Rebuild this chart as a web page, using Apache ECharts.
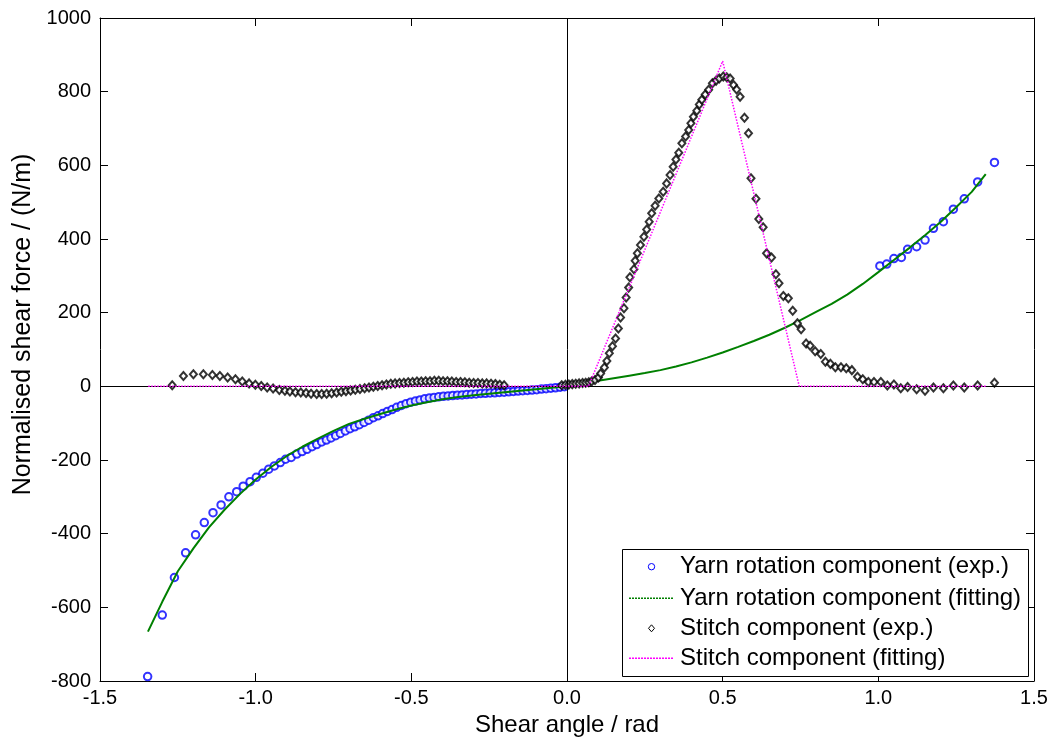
<!DOCTYPE html>
<html>
<head>
<meta charset="utf-8">
<script src="https://cdn.jsdelivr.net/npm/echarts@6/dist/echarts.min.js"></script>
<style>
html,body{margin:0;padding:0;background:#fff;}
#chart{width:1054px;height:743px;}
</style>
</head>
<body>
<div id="chart"></div>
<script>
// ---- data ----
const yarnExp = [
[-1.347,-788],[-1.300,-621],[-1.261,-519],[-1.225,-452],[-1.193,-403],[-1.165,-370],[-1.137,-343],
[-1.111,-322],[-1.086,-300],[-1.061,-286],[-1.040,-271],[-1.018,-259],[-0.998,-247],[-0.977,-236],
[-0.958,-225],[-0.940,-216],[-0.921,-207],[-0.904,-198],[-0.886,-193],[-0.868,-184],[-0.851,-177],
[-0.835,-171],[-0.819,-164],[-0.804,-158],[-0.788,-151],[-0.773,-146],[-0.758,-140],[-0.743,-134],
[-0.728,-128],[-0.712,-121],[-0.697,-115],[-0.682,-110],[-0.667,-104],[-0.652,-98],[-0.637,-92],
[-0.622,-85],[-0.607,-80],[-0.592,-74],[-0.577,-68],[-0.562,-63],[-0.547,-57],[-0.532,-52],
[-0.517,-47],[-0.502,-43],[-0.487,-40],[-0.472,-37],[-0.457,-34],[-0.442,-32],[-0.427,-30],
[-0.412,-28.5],[-0.397,-27],[-0.382,-26],[-0.367,-25],[-0.352,-24],[-0.337,-23.5],[-0.322,-22.5],
[-0.307,-21.5],[-0.292,-20.5],[-0.277,-19.5],[-0.262,-19],[-0.247,-18],[-0.232,-17.5],[-0.217,-16.5],
[-0.202,-16],[-0.187,-15],[-0.172,-14],[-0.157,-13],[-0.142,-12],[-0.127,-11],[-0.112,-10],
[-0.097,-9],[-0.082,-7.5],[-0.067,-6.5],[-0.052,-5],[-0.037,-4],[-0.022,-2.5],[-0.008,-1],
[1.005,327],[1.027,332],[1.050,347],[1.074,350],[1.094,372],[1.123,379],[1.150,397],
[1.177,429],[1.209,447],[1.241,481],[1.276,509],[1.319,555],[1.373,608]
];
const yarnFit = [
[-1.346,-666],[-1.30,-585],[-1.25,-502],[-1.20,-440],[-1.15,-383],[-1.10,-335],[-1.05,-292],
[-1.00,-253],[-0.95,-219],[-0.90,-189],[-0.85,-164],[-0.80,-142],[-0.75,-121],[-0.70,-102],
[-0.65,-88],[-0.60,-75],[-0.55,-63],[-0.50,-52],[-0.45,-43],[-0.40,-35],[-0.35,-29],[-0.30,-24],
[-0.25,-20],[-0.20,-16],[-0.15,-12],[-0.10,-8],[-0.05,-4],[0,0],[0.05,7],[0.10,15],[0.15,22],
[0.20,29],[0.25,36],[0.30,44],[0.35,54],[0.40,65],[0.45,78],[0.50,92],[0.55,107],[0.60,123],
[0.65,140],[0.70,159],[0.75,180],[0.80,202],[0.85,224],[0.90,249],[0.95,278],[1.00,310],
[1.05,343],[1.10,376],[1.15,410],[1.20,446],[1.25,486],[1.30,528],[1.345,576]
];
const stitchExp = [
[-1.268,3],[-1.232,28],[-1.200,33],[-1.168,33],[-1.139,31],[-1.115,28],[-1.090,24],[-1.065,19],
[-1.043,13],[-1.021,8],[-1.001,4],[-0.982,1],[-0.963,-3],[-0.944,-6],[-0.924,-10],[-0.906,-12],
[-0.890,-14],[-0.872,-16],[-0.855,-17],[-0.838,-18],[-0.822,-20],[-0.804,-21],[-0.788,-21],
[-0.772,-20],[-0.756,-19],[-0.740,-17],[-0.725,-15],[-0.710,-13],[-0.695,-11],[-0.680,-9],
[-0.665,-7],[-0.650,-5],[-0.636,-3],[-0.622,-1],[-0.608,1],[-0.594,3],[-0.580,5],[-0.566,7],
[-0.552,8],[-0.538,9],[-0.524,10],[-0.510,11],[-0.496,12],[-0.482,13],[-0.468,13],[-0.454,14],
[-0.440,14],[-0.426,15],[-0.412,15],[-0.398,14],[-0.384,14],[-0.370,13],[-0.356,12],[-0.342,12],
[-0.328,11],[-0.314,10],[-0.300,9],[-0.286,9],[-0.272,8],[-0.258,8],[-0.244,7],[-0.230,6],
[-0.216,4],[-0.202,3],
[-0.017,3],[-0.005,4],[0.006,5],[0.017,6],[0.028,7],[0.039,8],[0.050,9],[0.060,10],[0.070,11],
[0.079,13],[0.090,17],[0.101,24],[0.108,35],[0.120,51],[0.128,69],[0.136,90],[0.146,109],
[0.156,130],[0.165,157],[0.172,187],[0.183,212],[0.190,241],[0.198,268],[0.202,296],[0.215,318],
[0.219,341],[0.226,361],[0.236,384],[0.247,406],[0.256,426],[0.264,447],[0.272,470],[0.283,490],
[0.295,510],[0.309,528],[0.320,551],[0.331,574],[0.341,596],[0.350,616],[0.359,634],[0.369,660],
[0.381,678],[0.391,696],[0.398,714],[0.406,732],[0.417,748],[0.425,765],[0.433,778],[0.444,792],
[0.455,805],[0.467,823],[0.479,830],[0.489,836],[0.502,841],[0.513,839],[0.524,836],[0.535,818],
[0.545,806],[0.556,786],[0.570,729],[0.583,687],[0.591,565],[0.607,509],[0.616,454],[0.630,432],
[0.641,361],[0.657,350],[0.671,304],[0.681,280],[0.695,245],[0.711,239],[0.725,205],[0.740,171],
[0.752,155],[0.768,116],[0.781,110],[0.797,95],[0.815,88],[0.830,67],[0.846,61],[0.862,52],
[0.880,52],[0.897,49],[0.915,44],[0.933,26],[0.950,19],[0.968,12],[0.986,12],[1.008,12],
[1.029,2],[1.050,5],[1.072,-5],[1.094,-2],[1.123,-8],[1.150,-12],[1.177,-3],[1.209,-5],
[1.241,2],[1.276,-3],[1.319,2],[1.373,10]
];
const stitchFit = [[-1.345,0],[0.069,0],[0.500,883],[0.746,0],[1.348,0]];

const seriesNames = [
  'Yarn rotation component (exp.)',
  'Yarn rotation component (fitting)',
  'Stitch component (exp.)',
  'Stitch component (fitting)'
];
const xTitle = 'Shear angle / rad';
const yTitle = 'Normalised shear force / (N/m)';

// ---- chart ----
const FONT = "'Liberation Sans', Arial, Helvetica, sans-serif";
const chart = echarts.init(document.getElementById('chart'), null, {renderer:'canvas'});

const axisCommon = {
  axisLine:{show:true, onZero:false, lineStyle:{color:'#000', width:1}},
  axisTick:{show:true, inside:true, length:8, lineStyle:{color:'#000'}},
  splitLine:{show:false}
};

// legend drawn as graphic elements (box, markers and real text)
const LX = 629, LW = 45, rows = [566.7, 598.3, 628.3, 658.3];
const legendGraphic = [
  {type:'rect', left:622, top:549, z:20, silent:true,
   shape:{width:406, height:127}, style:{fill:'#fff', stroke:'#000', lineWidth:1}},
  {type:'circle', z:21, silent:true, shape:{cx:LX+LW/2, cy:rows[0], r:3.2},
   style:{fill:'#fff', stroke:'#0000ff', lineWidth:1}},
  {type:'line', z:21, silent:true, shape:{x1:LX, y1:rows[1], x2:LX+LW, y2:rows[1]},
   style:{stroke:'#008000', lineWidth:1.5, lineDash:[2,1]}},
  {type:'polygon', z:21, silent:true,
   shape:{points:[[LX+LW/2,rows[2]-3.5],[LX+LW/2+3,rows[2]],[LX+LW/2,rows[2]+3.5],[LX+LW/2-3,rows[2]]]},
   style:{fill:'#fff', stroke:'#000', lineWidth:1}},
  {type:'line', z:21, silent:true, shape:{x1:LX, y1:rows[3], x2:LX+LW, y2:rows[3]},
   style:{stroke:'#ff00ff', lineWidth:1.5, lineDash:[2,1]}}
].concat(seriesNames.map(function(n,i){
  return {type:'text', z:21, silent:true, x:680, y:rows[i],
    style:{text:n, fontFamily:FONT, fontSize:24, fill:'#000', verticalAlign:'middle', align:'left'}};
}));

const option = {
  animation:false,
  backgroundColor:'#fff',
  grid:{left:100, right:20, top:18, bottom:62, containLabel:false},
  xAxis:[
    Object.assign({}, axisCommon, {
      type:'value', min:-1.5, max:1.5, interval:0.5, position:'bottom',
      name:xTitle, nameLocation:'middle', nameGap:29,
      nameTextStyle:{fontFamily:FONT, fontSize:24, color:'#000'},
      axisLabel:{fontFamily:FONT, fontSize:20, color:'#000', margin:7,
        formatter:function(v){return v.toFixed(1);}}
    }),
    Object.assign({}, axisCommon, {
      type:'value', min:-1.5, max:1.5, interval:0.5, position:'top',
      axisLabel:{show:false}
    })
  ],
  yAxis:[
    Object.assign({}, axisCommon, {
      type:'value', min:-800, max:1000, interval:200, position:'left',
      name:yTitle, nameLocation:'middle', nameGap:55,
      nameTextStyle:{fontFamily:FONT, fontSize:25, color:'#000', padding:[0,0,0,50]},
      axisLabel:{fontFamily:FONT, fontSize:20, color:'#000', margin:9,
        formatter:function(v){return String(v);}}
    }),
    Object.assign({}, axisCommon, {
      type:'value', min:-800, max:1000, interval:200, position:'right',
      axisLabel:{show:false}
    })
  ],
  graphic:legendGraphic,
  series:[
    {
      name:seriesNames[0], type:'scatter', data:yarnExp,
      symbol:'emptyCircle', symbolSize:7.5,
      itemStyle:{color:'#0000ff', borderColor:'#0000ff', borderWidth:1},
      z:2,
      markLine:{
        silent:true, symbol:['none','none'], label:{show:false},
        lineStyle:{color:'#000', width:1, type:'solid'},
        emphasis:{disabled:true},
        data:[{xAxis:0},{yAxis:0}]
      }
    },
    {
      name:seriesNames[1], type:'line', data:yarnFit,
      symbol:'none', smooth:false,
      lineStyle:{color:'#008000', width:2},
      itemStyle:{color:'#008000'},
      z:3
    },
    {
      name:seriesNames[2], type:'scatter', data:stitchExp,
      symbol:'emptyDiamond', symbolSize:[7,8],
      itemStyle:{color:'#000', borderColor:'#000', borderWidth:1},
      z:4
    },
    {
      name:seriesNames[3], type:'line', data:stitchFit,
      symbol:'none', smooth:false,
      lineStyle:{color:'#ff00ff', width:1.5, type:'dotted'},
      itemStyle:{color:'#ff00ff'},
      z:5
    }
  ]
};
chart.setOption(option);
</script>
</body>
</html>
